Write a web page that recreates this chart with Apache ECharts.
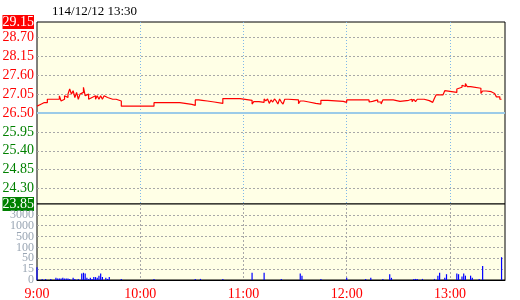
<!DOCTYPE html>
<html><head><meta charset="utf-8">
<script src="https://cdn.jsdelivr.net/npm/echarts@6/dist/echarts.min.js"></script>
<style>html,body{margin:0;padding:0;background:#fff}#c{width:520px;height:300px}</style>
</head><body><div id="c"></div>
<script>
const titleText = '114/12/12 13:30';
const refPrice = 26.50;
const priceTicks = [29.15, 28.70, 28.15, 27.60, 27.05, 26.50, 25.95, 25.40, 24.85, 24.30, 23.85];
const priceGridValues = [28.70, 28.15, 27.60, 27.05, 25.95, 25.40, 24.85, 24.30];
const volTickLabels = ['0', '15', '50', '100', '500', '1000', '3000'];
const volBreaks = [0, 15, 50, 100, 500, 1000, 3000, 10000];
const timeTicks = [0, 60, 120, 180, 240];
const timeLabels = ['9:00', '10:00', '11:00', '12:00', '13:00'];

const priceMinutes = [0,1,2,3,4,5,6,9,10,11,12,13,14,15,16,17,18,19,20,21,22,23,24,25,26,27,28,29,30,31,32,33,34,35,36,37,38,39,40,41,44,45,46,49,68,83,86,90,92,94,95,96,99,103,108,118,125,126,129,132,133,134,135,136,137,138,139,140,141,142,143,144,146,152,153,155,158,162,165,169,178,180,191,192,193,194,195,198,200,201,207,211,216,217,218,219,220,221,225,228,230,231,232,236,237,238,244,245,247,248,249,250,252,253,258,259,261,262,264,266,267,269,270];
const prices = [26.70,26.75,26.70,26.80,26.75,26.80,26.90,26.85,26.90,26.95,26.90,27.00,26.85,26.90,27.00,26.95,27.05,27.20,27.05,27.15,26.95,27.10,26.90,27.05,27.10,27.25,27.00,27.05,26.90,26.95,26.90,27.00,26.90,27.00,26.90,27.00,26.90,27.00,26.95,26.90,26.85,26.90,26.85,26.70,26.80,26.78,26.75,26.72,26.88,26.92,26.87,26.85,26.82,26.78,26.92,26.87,26.76,26.83,26.81,26.91,26.85,26.91,26.78,26.88,26.82,26.91,26.85,26.76,26.91,26.82,26.76,26.90,26.88,26.77,26.85,26.82,26.78,26.76,26.87,26.84,26.81,26.88,26.84,26.88,26.82,26.84,26.88,26.82,26.76,26.88,26.84,26.87,26.83,26.90,26.83,26.90,26.83,26.90,26.86,26.81,26.78,26.93,27.03,27.07,27.15,27.10,27.20,27.25,27.31,27.27,27.36,27.27,27.30,27.22,27.07,27.14,27.17,27.12,27.07,27.02,26.97,26.90,26.90];

const volMinutes = [0,3,5,8,11,12,13,14,15,16,17,18,19,21,22,24,26,27,28,29,30,31,32,33,34,35,36,37,38,40,41,42,49,68,92,95,108,125,132,142,153,154,165,180,191,194,201,205,206,219,220,221,224,231,233,234,237,238,244,245,247,248,249,252,253,257,259,270];
const volumes = [21,1.5,1.5,1.5,3,2,2,2,3,2,2,2,1.5,3,1.5,1.5,9,10,9,3,1.5,3,1.5,4,4,3,6,9,4,3,1.5,4,1.5,1.5,1.5,1.5,1.5,10,10,1.5,9,6,1.5,3,1.5,3,1.5,8,3,1.5,1.5,1.5,1.5,1.5,6,10,3,8,9,8,5,9,6,6,3,1.5,25,55];

function volToLevel(v) {
  for (let i = 0; i < volBreaks.length - 1; i++) {
    if (v < volBreaks[i + 1]) return i + (v - volBreaks[i]) / (volBreaks[i + 1] - volBreaks[i]);
  }
  return volBreaks.length - 1;
}

const FONT = 'Liberation Serif';
const VOLC = '#9aa6b4';
function volAxis(levels, withGrid) {
  return {type: 'value', gridIndex: 1, min: 0, max: 7, position: 'left', offset: 0,
    axisLine: {show: false}, axisTick: {show: false, customValues: [1, 2, 3, 4, 5, 6]},
    axisLabel: {customValues: levels, hideOverlap: false, showMinLabel: true, showMaxLabel: true,
      margin: 3, color: VOLC, fontSize: 12, fontFamily: FONT,
      formatter: v => volTickLabels[Math.round(v)] || ''},
    splitLine: {show: withGrid, lineStyle: {color: '#a8a8a8', type: [2, 2], width: 1}}};
}
const chart = echarts.init(document.getElementById('c'), null, {renderer: 'canvas'});
chart.setOption({
  animation: false,
  backgroundColor: '#ffffff',
  title: {text: titleText, left: 47, top: 0, textStyle: {fontSize: 13, fontWeight: 'normal', color: '#000', fontFamily: FONT}},
  grid: [
    {left: 37, top: 22, width: 468, height: 182, show: true, backgroundColor: '#ffffe6', borderColor: '#000', borderWidth: 1, outerBoundsMode: 'none'},
    {left: 37, top: 204, width: 468, height: 76, show: true, backgroundColor: '#ffffe6', borderColor: '#000', borderWidth: 1, outerBoundsMode: 'none'}
  ],
  xAxis: [
    {type: 'value', gridIndex: 0, min: 0, max: 272,
     axisLine: {show: false}, axisTick: {show: false, customValues: [60, 120, 180, 240]}, axisLabel: {show: false},
     splitLine: {show: true, lineStyle: {color: '#7fb8ea', type: [1, 2], width: 1}}},
    {type: 'value', gridIndex: 1, min: 0, max: 272,
     axisLine: {show: true, onZero: false, lineStyle: {color: '#000', width: 1}},
     axisTick: {show: false, customValues: [60, 120, 180, 240]},
     axisLabel: {customValues: timeTicks, hideOverlap: false, formatter: v => timeLabels[timeTicks.indexOf(Math.round(v))] || '', color: '#ff0000', fontSize: 14, fontFamily: FONT, margin: 7},
     splitLine: {show: true, lineStyle: {color: '#a8a8a8', type: [2, 2], width: 1}}}
  ],
  yAxis: [
    {type: 'value', gridIndex: 0, min: 23.85, max: 29.15,
     axisLine: {show: false}, axisTick: {show: false, customValues: priceGridValues},
     axisLabel: {customValues: priceTicks, hideOverlap: false, margin: 3, fontSize: 14, fontFamily: FONT,
       formatter: v => {
         const s = v.toFixed(2);
         if (Math.abs(v - priceTicks[0]) < 1e-6) return '{up|' + s + '}';
         if (Math.abs(v - priceTicks[priceTicks.length - 1]) < 1e-6) return '{dn|' + s + '}';
         return v >= refPrice - 1e-6 ? '{r|' + s + '}' : '{g|' + s + '}';
       },
       rich: {
         up: {backgroundColor: '#ff0000', color: '#fff', fontSize: 14, fontFamily: FONT, padding: [0, 0, 0, 0], lineHeight: 12},
         dn: {backgroundColor: '#008000', color: '#fff', fontSize: 14, fontFamily: FONT, padding: [0, 0, 0, 0], lineHeight: 12},
         r: {color: '#ff0000', fontSize: 14, fontFamily: FONT},
         g: {color: '#008000', fontSize: 14, fontFamily: FONT}
       }},
     splitLine: {show: true, lineStyle: {color: '#a8a8a8', type: [2, 2], width: 1}}},
    volAxis([0, 2, 4, 6], true),
    volAxis([1, 3, 5], false)
  ],
  series: [
    {type: 'line', xAxisIndex: 0, yAxisIndex: 0, step: 'end', showSymbol: false, symbol: 'none',
     data: priceMinutes.map((m, i) => [m, prices[i]]),
     lineStyle: {color: '#ff0000', width: 1.2},
     markLine: {silent: true, symbol: 'none', label: {show: false},
       lineStyle: {color: '#9ccbe8', type: 'solid', width: 2},
       data: [{yAxis: refPrice}]}},
    {type: 'bar', xAxisIndex: 1, yAxisIndex: 1, barWidth: 1.2,
     data: volMinutes.map((m, i) => [m, volToLevel(volumes[i])]),
     itemStyle: {color: '#0000ff'}}
  ]
});
</script></body></html>
